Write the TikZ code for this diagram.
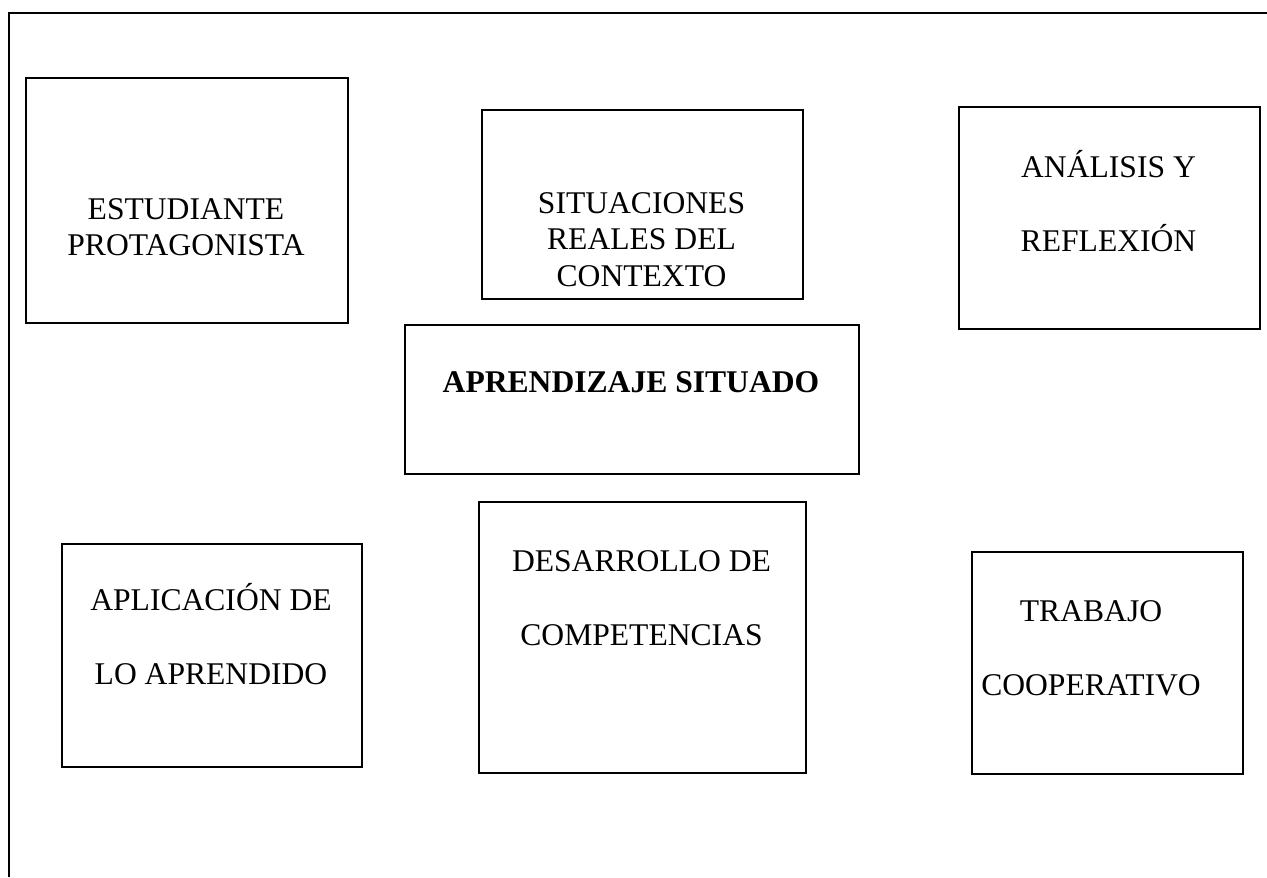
\documentclass[tikz,border=0pt]{standalone}
\usepackage{fontspec}
\setmainfont{Liberation Serif}
\usetikzlibrary{positioning}

\begin{document}
\begin{tikzpicture}[x=0.5pt, y=-0.5pt,
        caja/.style={draw, line width=1pt, inner sep=0pt, anchor=north west},
        texto/.style={align=center, inner sep=0pt, anchor=base, font=\fontsize{15.8}{18.25}\selectfont},
        textodoble/.style={texto, font=\fontsize{15.8}{37}\selectfont}]
        \useasboundingbox (0,0) rectangle (1267,877);
        \coordinate (M1) at (9,877);
        \coordinate (M2) at (9,13);
        \coordinate (M3) at (1267,13);
        
        % Marco.
        \draw[line width=1.2pt] (M1) -- (M2) -- (M3);
        
        % Fila de arriba.
        \node[caja, minimum width=161pt, minimum height=122.5pt] (estud) at (25,77) {};
        \node[texto] (estud-t) at (186,256) {ESTUDIANTE\\PROTAGONISTA};
        \node[caja, minimum width=160.5pt, minimum height=94.5pt] (situ) at (481,109) {};
        \node[texto] (situ-t) at (641.5,286) {SITUACIONES\\REALES DEL\\CONTEXTO};
        \node[caja, minimum width=150.5pt, minimum height=111pt] (anal) at (958,106) {};
        \node[textodoble] (anal-t) at (1108.5,251) {ANÁLISIS Y\\REFLEXIÓN};
        
        % Centro.
        \node[caja, minimum width=227pt, minimum height=74.5pt] (apren) at (404,324) {};
        \node[texto, font=\fontsize{15.8}{18.25}\selectfont\bfseries] (apren-t) at (631,392) {APRENDIZAJE SITUADO};
        
        % Fila de abajo.
        \node[caja, minimum width=150pt, minimum height=111.5pt] (aplic) at (61,543) {};
        \node[textodoble] (aplic-t) at (211,684) {APLICACIÓN DE\\LO APRENDIDO};
        \node[caja, minimum width=163.5pt, minimum height=135.5pt] (desar) at (478,501) {};
        \node[textodoble] (desar-t) at (641.5,645) {DESARROLLO DE\\COMPETENCIAS};
        \node[caja, minimum width=135.5pt, minimum height=111pt] (trab) at (971,551) {};
        \node[textodoble] (trab-t) at (1091,695) {TRABAJO\\COOPERATIVO};

    \end{tikzpicture}
\end{document}
